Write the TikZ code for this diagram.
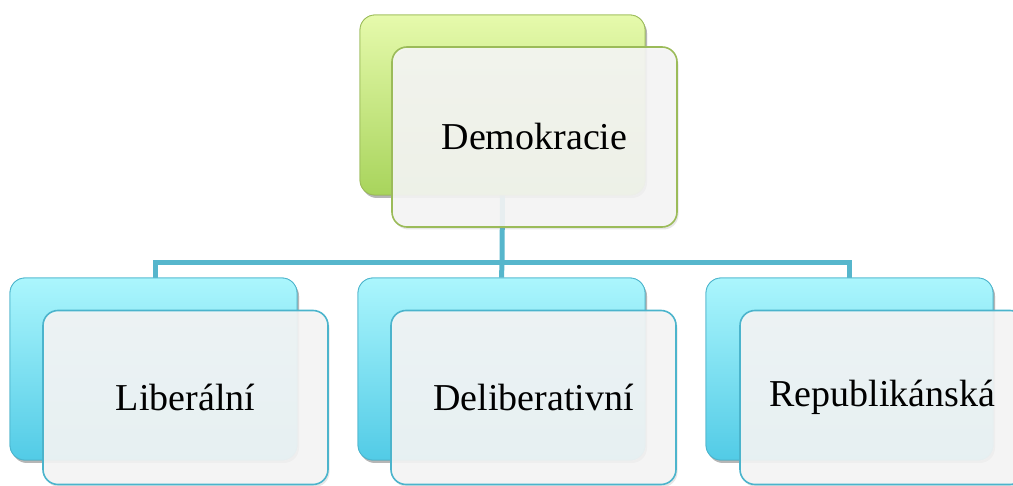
\documentclass[tikz,border=0pt]{standalone}
\usepackage{fontspec}
\setmainfont{Liberation Serif}
\usetikzlibrary{shadows}
\definecolor{gtop}{HTML}{E6FAAC}
\definecolor{gbot}{HTML}{A8D45C}
\definecolor{gline}{HTML}{9BBB59}
\definecolor{btop}{HTML}{ABF6FD}
\definecolor{bbot}{HTML}{52CBE6}
\definecolor{bline}{HTML}{4BB4CC}
\definecolor{conncol}{HTML}{56B6CC}
\definecolor{frontfill}{HTML}{F6F6F6}
\begin{document}
\begin{tikzpicture}[x=1pt,y=-1pt,
  backbox/.style={rectangle, rounded corners=15pt, minimum width=287pt, minimum height=182pt, line width=0.8pt,
    drop shadow={shadow xshift=2pt, shadow yshift=-3pt, opacity=0.35}},
  backgreen/.style={backbox, draw=gline, top color=gtop, bottom color=gbot, minimum width=285pt, minimum height=180pt},
  backblue/.style={backbox, draw=bline, top color=btop, bottom color=bbot},
  frontbox/.style={rectangle, rounded corners=15pt, minimum width=285pt, line width=1.6pt,
    fill=frontfill, fill opacity=0.9, text opacity=1, font=\fontsize{38}{42}\selectfont,
    drop shadow={shadow xshift=1.5pt, shadow yshift=-2.5pt, opacity=0.2}},
  frontgreen/.style={frontbox, draw=gline, minimum height=180pt},
  frontblue/.style={frontbox, draw=bline, minimum height=174pt},
  conn/.style={draw=conncol, line width=5pt}]
\useasboundingbox (0,0) rectangle (1013,486);
\clip (0,0) rectangle (1013,486);
\coordinate (bus) at (502,263);
\node[backgreen] (rootback) at (502.5,105) {};
\node[backblue] (cback1) at (153.5,369) {};
\node[backblue] (cback2) at (501.5,369) {};
\node[backblue] (cback3) at (849.5,369) {};
\draw[conn] (rootback.south) -- (bus);
\draw[conn] (bus) -| ([xshift=1.5pt]cback1.north);
\draw[conn] (bus) -| (cback3.north);
\draw[conn] (bus) -- (cback2.north);
\node[backgreen] at (502.5,105) {};
\node[backblue] at (153.5,369) {};
\node[backblue] at (501.5,369) {};
\node[backblue] at (849.5,369) {};
\node[frontgreen] (root) at (534.5,137) {Demokracie};
\node[frontblue] (c1) at (185.5,397.5) {Liberální};
\node[frontblue] (c2) at (533.5,397.5) {Deliberativní};
\node[frontblue] (c3) at (882.5,397.5) {Republikánská};
\end{tikzpicture}
\end{document}
